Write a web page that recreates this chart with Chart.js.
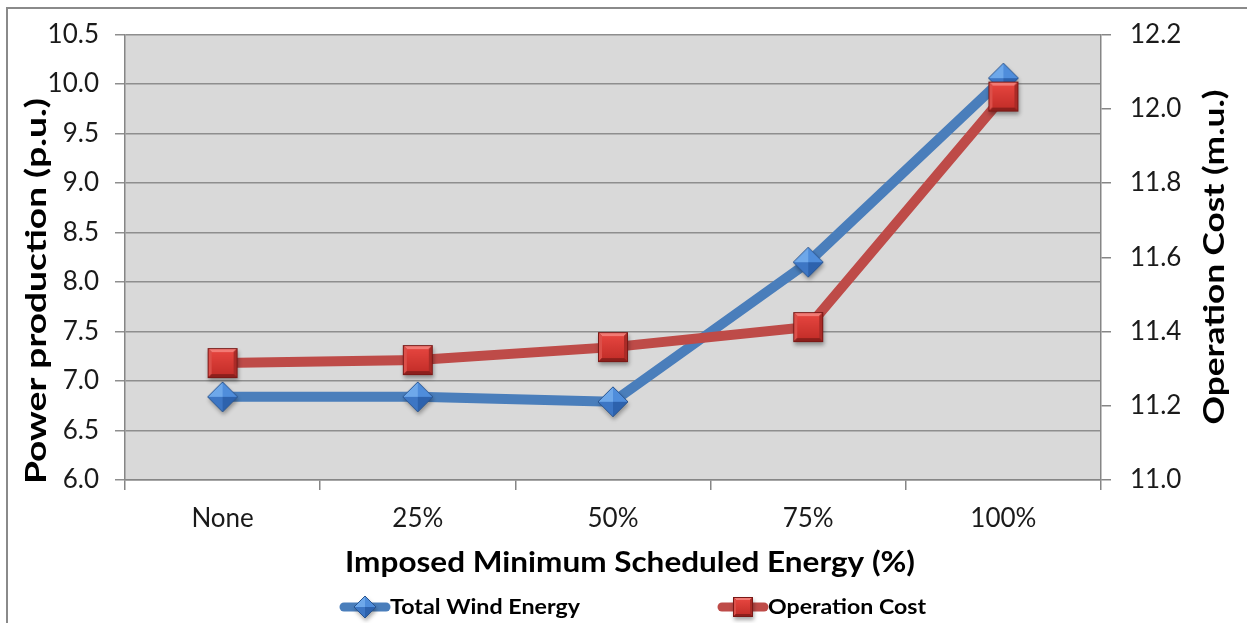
<!DOCTYPE html>
<html>
<head>
<meta charset="utf-8">
<script src="https://cdn.jsdelivr.net/npm/chart.js@4/dist/chart.umd.min.js"></script>
<style>
  html, body { margin: 0; padding: 0; background: #fff; }
  #wrap { position: relative; width: 1247px; height: 623px; overflow: hidden; }
</style>
</head>
<body>
<div id="wrap"><canvas id="chart" width="1247" height="623"></canvas></div>
<script>
// Scenario categories and results
const categories = ['None', '25%', '50%', '75%', '100%'];
const totalWindEnergy = [6.84, 6.84, 6.79, 8.20, 10.06];      // p.u.
const operationCost = [11.315, 11.323, 11.358, 11.412, 12.033]; // m.u.

// Axis tick values
const powerTicks = [6.0, 6.5, 7.0, 7.5, 8.0, 8.5, 9.0, 9.5, 10.0, 10.5];
const costTicks = [11.0, 11.2, 11.4, 11.6, 11.8, 12.0, 12.2];

// Titles
const xTitle = 'Imposed Minimum Scheduled Energy (%)';
const yTitle = 'Power production (p.u.)';
const y1Title = 'Operation Cost (m.u.)';

const FONT = 'Lato';
const WIND_COLOR = '#4a7ebb';
const COST_COLOR = '#be4b48';
const AXIS_COLOR = '#868686';

function poly(g, pts, fill) {
  g.beginPath();
  g.moveTo(pts[0][0], pts[0][1]);
  for (let i = 1; i < pts.length; i++) g.lineTo(pts[i][0], pts[i][1]);
  g.closePath();
  g.fillStyle = fill;
  g.fill();
}

// Bevelled square marker
function makeSquare(side) {
  const m = 7;
  const c = document.createElement('canvas');
  c.width = c.height = side + 2 * m;
  const g = c.getContext('2d');
  const x0 = m, y0 = m, s = side, b = Math.max(3, Math.round(side * 0.14));
  g.save();
  g.shadowColor = 'rgba(0,0,0,0.35)';
  g.shadowBlur = 4; g.shadowOffsetX = 1; g.shadowOffsetY = 3;
  g.fillStyle = '#8e1f1d';
  g.fillRect(x0, y0, s, s);
  g.restore();
  poly(g, [[x0, y0], [x0 + s, y0], [x0 + s - b, y0 + b], [x0 + b, y0 + b]], '#f27a74');
  poly(g, [[x0, y0], [x0 + b, y0 + b], [x0 + b, y0 + s - b], [x0, y0 + s]], '#dc4f49');
  poly(g, [[x0 + s, y0], [x0 + s, y0 + s], [x0 + s - b, y0 + s - b], [x0 + s - b, y0 + b]], '#aa2b27');
  poly(g, [[x0, y0 + s], [x0 + b, y0 + s - b], [x0 + s - b, y0 + s - b], [x0 + s, y0 + s]], '#8c1f1c');
  const gr = g.createLinearGradient(0, y0 + b, 0, y0 + s - b);
  gr.addColorStop(0, '#e4443e');
  gr.addColorStop(1, '#c52f2a');
  g.fillStyle = gr;
  g.fillRect(x0 + b, y0 + b, s - 2 * b, s - 2 * b);
  g.strokeStyle = '#7a1816';
  g.lineWidth = 1;
  g.strokeRect(x0 + 0.5, y0 + 0.5, s - 1, s - 1);
  return c;
}

// Faceted diamond marker
function makeDiamond(size) {
  const m = 7;
  const c = document.createElement('canvas');
  c.width = c.height = size + 2 * m;
  const g = c.getContext('2d');
  const cx = c.width / 2, cy = c.height / 2, r = size / 2;
  const T = [cx, cy - r], R = [cx + r, cy], B = [cx, cy + r], L = [cx - r, cy], C = [cx, cy];
  g.save();
  g.shadowColor = 'rgba(0,0,0,0.35)';
  g.shadowBlur = 4; g.shadowOffsetX = 1; g.shadowOffsetY = 3;
  poly(g, [T, R, B, L], '#2c5e9e');
  g.restore();
  poly(g, [L, T, C], '#6ea8ea');
  poly(g, [T, R, C], '#4f8ddb');
  poly(g, [R, B, C], '#2d62ad');
  poly(g, [B, L, C], '#3d76c4');
  g.beginPath();
  g.moveTo(T[0], T[1]); g.lineTo(R[0], R[1]); g.lineTo(B[0], B[1]); g.lineTo(L[0], L[1]); g.closePath();
  g.strokeStyle = '#2a558f';
  g.lineWidth = 1;
  g.stroke();
  return c;
}

// Text drawn with a horizontal stretch so it spans a given length
function wideText(ctx, text, x, y, rotation, font, span, align) {
  ctx.save();
  ctx.font = font;
  ctx.fillStyle = '#000';
  ctx.textBaseline = 'middle';
  ctx.textAlign = align || 'center';
  const k = span / ctx.measureText(text).width;
  ctx.translate(x, y);
  ctx.rotate(rotation);
  ctx.scale(k, 1);
  ctx.fillText(text, 0, 0);
  ctx.restore();
}

const chartFrame = {
  id: 'chartFrame',
  beforeDraw(chart) {
    const { ctx, chartArea: a } = chart;
    ctx.save();
    ctx.fillStyle = '#ffffff';
    ctx.fillRect(0, 0, chart.width, chart.height);
    ctx.strokeStyle = '#8a8a8a';
    ctx.lineWidth = 2;
    ctx.beginPath();
    ctx.moveTo(7, chart.height);
    ctx.lineTo(7, 8);
    ctx.lineTo(chart.width, 8);
    ctx.stroke();
    ctx.fillStyle = '#d9d9d9';
    ctx.fillRect(a.left, a.top, a.right - a.left, a.bottom - a.top);
    ctx.restore();
  }
};

// Axis titles and the series key
const chartExtras = {
  id: 'chartExtras',
  afterDraw(chart) {
    const { ctx, chartArea: a } = chart;
    const titleFont = 'bold 29px ' + FONT;
    wideText(ctx, xTitle, (a.left + a.right) / 2 + 17, 563, 0, titleFont, 570);
    wideText(ctx, yTitle, 37, 291, -Math.PI / 2, titleFont, 386);
    wideText(ctx, y1Title, 1215, 257, -Math.PI / 2, titleFont, 335);

    const items = [
      { ds: chart.data.datasets[0], x: 340, span: 190, marker: makeDiamond(22) },
      { ds: chart.data.datasets[1], x: 718, span: 158, marker: makeSquare(20) }
    ];
    const ly = 607;
    ctx.save();
    items.forEach(it => {
      ctx.strokeStyle = it.ds.borderColor;
      ctx.lineWidth = 9;
      ctx.lineCap = 'round';
      ctx.beginPath();
      ctx.moveTo(it.x + 4, ly);
      ctx.lineTo(it.x + 46, ly);
      ctx.stroke();
      ctx.drawImage(it.marker, it.x + 25 - it.marker.width / 2, ly - it.marker.height / 2);
      wideText(ctx, it.ds.label, it.x + 50, ly, 0, 'bold 21px ' + FONT, it.span, 'left');
    });
    ctx.restore();
  }
};

function draw() {
  const tickFont = { family: FONT, size: 26 };
  new Chart(document.getElementById('chart'), {
    type: 'line',
    data: {
      labels: categories,
      datasets: [
        {
          label: 'Total Wind Energy',
          data: totalWindEnergy,
          yAxisID: 'y',
          borderColor: WIND_COLOR,
          backgroundColor: WIND_COLOR,
          borderWidth: 10,
          borderJoinStyle: 'round',
          pointStyle: makeDiamond(30),
          pointRadius: 15,
          pointHoverRadius: 15,
          order: 1
        },
        {
          label: 'Operation Cost',
          data: operationCost,
          yAxisID: 'y1',
          borderColor: COST_COLOR,
          backgroundColor: COST_COLOR,
          borderWidth: 10,
          borderJoinStyle: 'round',
          pointStyle: makeSquare(30),
          pointRadius: 15,
          pointHoverRadius: 15,
          order: 0
        }
      ]
    },
    options: {
      responsive: false,
      animation: false,
      devicePixelRatio: 1,
      layout: { padding: { top: 34, left: 0, right: 0, bottom: 0 } },
      plugins: { legend: { display: false }, tooltip: { enabled: false } },
      scales: {
        x: {
          type: 'category',
          offset: true,
          grid: { offset: true, drawOnChartArea: false, drawTicks: true, tickLength: 10, color: AXIS_COLOR, lineWidth: 1.5 },
          border: { color: AXIS_COLOR, width: 1.5 },
          ticks: { font: tickFont, color: '#1a1a1a', padding: 13 },
          afterFit(s) { s.height = 143; }
        },
        y: {
          position: 'left',
          min: powerTicks[0],
          max: powerTicks[powerTicks.length - 1],
          afterBuildTicks(s) { s.ticks = powerTicks.map(v => ({ value: v })); },
          grid: { color: '#8e8e8e', lineWidth: 1.5, drawTicks: true, tickLength: 10 },
          border: { color: AXIS_COLOR, width: 1.5 },
          ticks: { font: tickFont, color: '#1a1a1a', padding: 16, callback: v => Number(v).toFixed(1) },
          afterFit(s) { s.width = 125; }
        },
        y1: {
          position: 'right',
          min: costTicks[0],
          max: costTicks[costTicks.length - 1],
          afterBuildTicks(s) { s.ticks = costTicks.map(v => ({ value: v })); },
          grid: { drawOnChartArea: false, drawTicks: true, tickLength: 10, color: AXIS_COLOR, lineWidth: 1.5 },
          border: { color: AXIS_COLOR, width: 1.5 },
          ticks: { font: tickFont, color: '#1a1a1a', padding: 19, callback: v => Number(v).toFixed(1) },
          afterFit(s) { s.width = 146; }
        }
      }
    },
    plugins: [chartFrame, chartExtras]
  });
}

const fontLoads = document.fonts ? Promise.all([
  document.fonts.load('26px ' + FONT),
  document.fonts.load('bold 29px ' + FONT)
]).catch(() => {}) : Promise.resolve();
fontLoads.then(draw, draw);
</script>
</body>
</html>
